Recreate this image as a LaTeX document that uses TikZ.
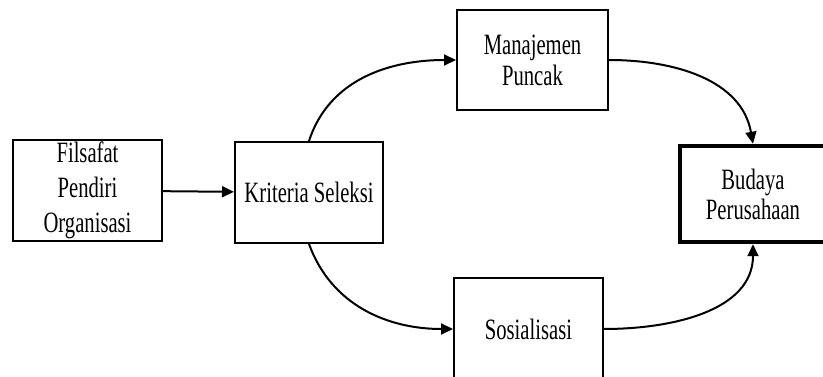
\documentclass[tikz,border=0pt]{standalone}
\usepackage{fontspec}
\setmainfont{Liberation Serif}[FakeStretch=0.7]
\usetikzlibrary{arrows.meta}

\begin{document}
\begin{tikzpicture}[x=1pt,y=1pt,
    kotak/.style={draw,line width=2pt,align=center,inner sep=0pt,
      font=\fontsize{29.5}{33}\selectfont},
    panah/.style={line width=2pt,-{Triangle[length=12pt,width=11pt]}}]

    \useasboundingbox (0,0) rectangle (823,-377);

		\node [kotak,minimum width=149,minimum height=101,
		  font=\fontsize{29.5}{35}\selectfont] (fil) at (87.5,-190.5) {Filsafat\\Pendiri\\Organisasi};
		\node [kotak,minimum width=148,minimum height=101] (kri) at (309,-192.5) {Kriteria Seleksi};
		\node [kotak,minimum width=151,minimum height=100,
		  font=\fontsize{29.5}{31}\selectfont] (man) at (532.5,-60) {Manajemen\\Puncak};
		\node [kotak,minimum width=149,minimum height=102] (sos) at (528.5,-329) {Sosialisasi};
		\node [kotak,line width=4.5pt,minimum width=146,minimum height=96,
		  font=\fontsize{29.5}{30}\selectfont] (bud) at (753,-194) {Budaya\\Perusahaan}; %tebal

		\draw [panah] (fil) -- (kri);

		\draw [panah] (kri.north) to [out=72,in=180] (man.west);
		\draw [panah] (man.east) to [out=0,in=100] (bud.north);
		\draw [panah] (kri.south) to [out=-70,in=180] (sos.west);
		\draw [panah] (sos.east) to [out=0,in=-90] (bud.south);
\end{tikzpicture}
\end{document}
